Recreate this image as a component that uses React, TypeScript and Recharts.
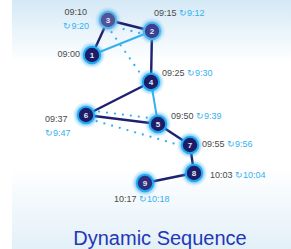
import { ScatterChart, Scatter, XAxis, YAxis } from "recharts";

// stop positions (pixel space of the 291x249 image)
const stopIds = [1, 2, 3, 4, 5, 6, 7, 8, 9];
const stopX = [92, 152, 108, 151, 158, 86, 190, 194, 145];
const stopY = [55, 31, 20, 82, 124, 115, 145, 173, 183];
const plannedTimes = ["09:00", "09:15", "09:10", "09:25", "09:50", "09:37", "09:55", "10:03", "10:17"];
const actualTimes = ["", "9:12", "9:20", "9:30", "9:39", "9:47", "9:56", "10:04", "10:18"];

// planned order (dark), actual order where it differs (light / dotted)
const plannedEdges: [number, number][] = [[1, 3], [3, 2], [2, 4], [4, 6], [6, 5], [5, 7], [7, 8], [8, 9]];
const actualSolidEdges: [number, number][] = [[1, 2], [4, 5]];
const actualDottedEdges: [number, number][] = [[2, 3], [3, 4], [5, 6], [6, 7]];

const W = 291;
const H = 249;
const NAVY = "#1e2170";
const LIGHT = "#35b0ee";
const RING = "#22a9f2";

const nodes = stopIds.map((id, i) => ({
  id,
  x: stopX[i],
  y: stopY[i],
  planned: plannedTimes[i],
  actual: actualTimes[i],
}));
const byId = (id: number) => nodes.find((n) => n.id === id)!;

// per-node look
const nodeFill: Record<number, string> = { 2: "#3c4090", 3: "#505499", 9: "#2b2e7d" };
const ringColor: Record<number, string> = { 2: "#4db5ee", 3: "#5ab6ea" };
// label placement: [dx, dy, anchor, stacked]
const labelPos: Record<number, [number, number, string, boolean]> = {
  1: [-12, 2, "end", false],
  2: [2, -15, "start", false],
  3: [-21, -5, "end", true],
  4: [11, -6, "start", false],
  5: [13, -5, "start", false],
  6: [-41, 7, "start", true],
  7: [12, 2, "start", false],
  8: [16, 5, "start", false],
  9: [-31, 19, "start", false],
};
const dotShift: Record<string, number> = { "2-3": 5, "3-4": 4, "5-6": -5, "6-7": 3 };

const Empty = () => <g />;

const NodeShape = (props: any) => {
  const { cx, cy, payload } = props;
  const [dx, dy, anchor, stacked] = labelPos[payload.id];
  const fill = nodeFill[payload.id] || "#1b1d66";
  const ring = ringColor[payload.id] || RING;
  const actual = payload.actual ? "\u21bb" + payload.actual : "";
  return (
    <g>
      <circle cx={cx} cy={cy} r={11} fill={ring} opacity={0.55} filter="url(#glow)" />
      <circle cx={cx} cy={cy} r={8.2} fill={fill} stroke={ring} strokeWidth={2} />
      <text x={cx} y={cy + 3} textAnchor="middle" fill="#e8e8f4" fontSize={8} fontWeight="bold" fontFamily="Liberation Sans, Arial, sans-serif">
        {payload.id}
      </text>
      {stacked ? (
        <text x={cx + dx} y={cy + dy} textAnchor={anchor} fontSize={9} fontFamily="Liberation Sans, Arial, sans-serif">
          <tspan fill="#4a4a4a">{payload.planned}</tspan>
          <tspan x={cx + dx + (anchor === "end" ? 2 : 0)} dy={14} fill={LIGHT}>{actual}</tspan>
        </text>
      ) : (
        <text x={cx + dx} y={cy + dy} textAnchor={anchor} fontSize={9} fontFamily="Liberation Sans, Arial, sans-serif">
          <tspan fill="#4a4a4a">{payload.planned}</tspan>
          {actual && <tspan fill={LIGHT}>{" " + actual}</tspan>}
        </text>
      )}
    </g>
  );
};

const dottedLine = (shift: number) => (p: any) => {
  const pts = p.points || [];
  if (pts.length < 2) return <g />;
  const [a, b] = pts;
  const len = Math.hypot(b.x - a.x, b.y - a.y) || 1;
  let nx = -(b.y - a.y) / len;
  let ny = (b.x - a.x) / len;
  if (ny < 0) {
    nx = -nx;
    ny = -ny;
  }
  // leave the node discs clear
  const ux = (b.x - a.x) / len;
  const uy = (b.y - a.y) / len;
  const pad = 12;
  return (
    <line
      x1={a.x + ux * pad + nx * shift}
      y1={a.y + uy * pad + ny * shift}
      x2={b.x - ux * pad + nx * shift}
      y2={b.y - uy * pad + ny * shift}
      stroke={LIGHT}
      strokeWidth={2.3}
      strokeLinecap="round"
      strokeDasharray="0 8"
    />
  );
};

export default function App() {
  return (
    <div style={{ position: "absolute", left: 0, top: 0, width: W, height: H, background: "#fff" }}>
      <div
        style={{
          position: "absolute",
          left: 12,
          top: 0,
          right: 0,
          bottom: 0,
          background: "linear-gradient(to bottom, #d4e9f6 0px, #ffffff 62px, #ffffff 168px, #e3f0f8 249px)",
        }}
      />
      <div style={{ position: "absolute", left: 0, top: 0 }}>
        <ScatterChart width={W} height={H} margin={{ top: 0, right: 0, bottom: 0, left: 0 }}>
          <defs>
            <filter id="glow" x="-50%" y="-50%" width="200%" height="200%">
              <feGaussianBlur stdDeviation="1.6" />
            </filter>
          </defs>
          <XAxis type="number" dataKey="x" domain={[0, W]} hide />
          <YAxis type="number" dataKey="y" domain={[0, H]} reversed hide />
          {actualDottedEdges.map(([a, b]) => (
            <Scatter
              key={"d" + a + b}
              data={[byId(a), byId(b)]}
              shape={Empty}
              line={dottedLine(dotShift[a + "-" + b] || 0)}
              isAnimationActive={false}
            />
          ))}
          {actualSolidEdges.map(([a, b]) => (
            <Scatter
              key={"s" + a + b}
              data={[byId(a), byId(b)]}
              shape={Empty}
              line={{ stroke: LIGHT, strokeWidth: 2 }}
              fill={LIGHT}
              isAnimationActive={false}
            />
          ))}
          {plannedEdges.map(([a, b]) => (
            <Scatter
              key={"p" + a + b}
              data={[byId(a), byId(b)]}
              shape={Empty}
              line={{ stroke: NAVY, strokeWidth: 2.4 }}
              fill={NAVY}
              isAnimationActive={false}
            />
          ))}
          <Scatter data={nodes} shape={NodeShape} isAnimationActive={false} />
          <text x={160} y={245} textAnchor="middle" fill="#2437b6" fontSize={20} fontFamily="Liberation Sans, Arial, sans-serif">
            Dynamic Sequence
          </text>
        </ScatterChart>
      </div>
    </div>
  );
}
